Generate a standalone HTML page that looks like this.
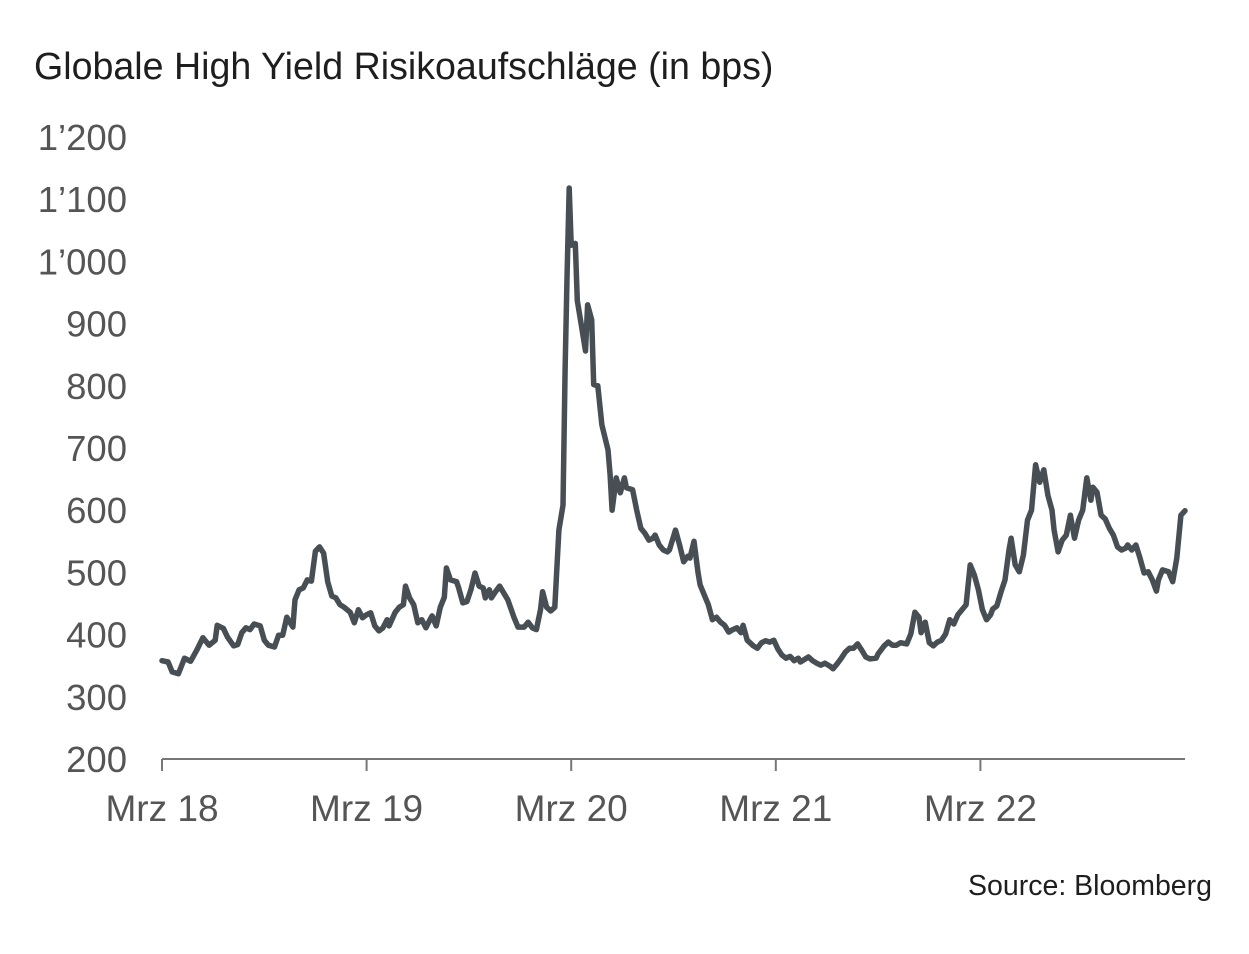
<!DOCTYPE html>
<html><head><meta charset="utf-8"><style>
html,body{margin:0;padding:0;background:#fff;}
body{width:1249px;height:949px;overflow:hidden;font-family:"Liberation Sans",sans-serif;}
</style></head><body>
<svg width="1249" height="949" viewBox="0 0 1249 949">
<text x="34" y="79" font-size="37.6" fill="#1e1e1e">Globale High Yield Risikoaufschläge (in bps)</text>
<g id="yaxis"></g>
<g id="xaxis"></g>
<g id="series"></g>
<text x="1212" y="895" font-size="28.5" fill="#1e1e1e" text-anchor="end">Source: Bloomberg</text>
</svg>
<script>
const yTicks=[200,300,400,500,600,700,800,900,1000,1100,1200];
const yTickLabels=["200","300","400","500","600","700","800","900","1’000","1’100","1’200"];
const xTicks=[0,1,2,3,4];
const xTickLabels=["Mrz 18","Mrz 19","Mrz 20","Mrz 21","Mrz 22"];
// years since Mar 2018
const times=[0,.03,.05,.08,.11,.14,.17,.20,.23,.26,.27,.30,.32,.35,.37,.39,.41,.43,.45,.48,.50,.52,.55,.57,.59,.61,.64,.65,.67,.69,.71,.73,.75,.77,.79,.81,.83,.85,.87,.89,.92,.94,.96,.98,1.00,1.02,1.04,1.06,1.08,1.10,1.11,1.14,1.16,1.18,1.19,1.21,1.23,1.25,1.27,1.29,1.31,1.32,1.34,1.36,1.38,1.39,1.41,1.44,1.45,1.47,1.49,1.51,1.53,1.55,1.57,1.58,1.60,1.61,1.63,1.65,1.67,1.69,1.72,1.74,1.77,1.79,1.81,1.83,1.85,1.86,1.88,1.90,1.92,1.94,1.96,1.97,1.98,1.99,2.00,2.02,2.03,2.05,2.07,2.08,2.10,2.11,2.13,2.15,2.18,2.19,2.20,2.22,2.24,2.26,2.27,2.30,2.32,2.34,2.36,2.38,2.40,2.41,2.43,2.45,2.47,2.48,2.51,2.53,2.55,2.57,2.58,2.60,2.62,2.63,2.65,2.67,2.69,2.71,2.73,2.75,2.77,2.79,2.81,2.83,2.84,2.86,2.89,2.91,2.93,2.95,2.97,2.99,3.01,3.03,3.05,3.07,3.09,3.11,3.12,3.14,3.16,3.18,3.20,3.22,3.24,3.27,3.28,3.30,3.32,3.34,3.36,3.38,3.40,3.42,3.44,3.46,3.49,3.50,3.53,3.55,3.57,3.59,3.61,3.64,3.66,3.68,3.70,3.71,3.73,3.75,3.77,3.79,3.81,3.83,3.85,3.87,3.89,3.91,3.93,3.95,3.97,3.99,4.01,4.03,4.05,4.06,4.08,4.10,4.12,4.14,4.15,4.17,4.19,4.21,4.23,4.25,4.27,4.29,4.31,4.33,4.35,4.36,4.38,4.40,4.42,4.44,4.46,4.48,4.50,4.52,4.54,4.55,4.57,4.59,4.61,4.63,4.65,4.67,4.69,4.71,4.72,4.74,4.76,4.78,4.80,4.82,4.84,4.86,4.87,4.89,4.92,4.94,4.96,4.98,5.00];
const spreads=[358,356,340,337,362,357,375,395,383,391,415,410,396,382,384,403,411,408,417,414,391,383,380,399,399,428,412,456,472,475,488,486,534,541,531,485,462,459,448,444,436,419,440,427,432,435,414,406,411,424,414,436,444,448,478,459,448,419,424,411,424,430,414,444,460,507,488,485,475,451,453,472,499,478,475,459,472,459,469,478,467,456,428,412,412,420,411,408,440,469,444,438,444,568,608,826,980,1118,1026,1029,937,897,856,930,906,802,800,737,697,657,600,652,628,652,636,633,600,571,563,552,555,560,544,536,533,536,568,544,517,526,523,550,499,480,464,448,424,428,420,415,404,408,411,403,415,391,382,378,387,390,388,391,377,367,362,365,358,362,356,360,364,358,354,351,354,348,345,353,362,372,378,378,385,375,364,361,362,369,382,388,383,383,387,385,401,436,428,403,420,387,382,388,391,401,424,417,432,440,448,512,496,472,440,424,432,441,446,468,488,536,555,512,501,528,584,600,673,645,665,624,600,568,533,552,560,592,555,584,600,652,616,637,629,592,586,571,560,541,536,539,544,536,544,523,499,501,488,470,488,504,501,485,523,592,599];

const NS='http://www.w3.org/2000/svg';
const X0=162,X1=1185,Y0=759,Y1=137;
const xs=t=>X0+(X1-X0)*t/5;
const ys=v=>Y0-(Y0-Y1)*(v-200)/1000;
function mk(tag,attrs,parent){const e=document.createElementNS(NS,tag);for(const k in attrs)e.setAttribute(k,attrs[k]);parent.appendChild(e);return e;}

const ya=document.getElementById('yaxis');
yTicks.forEach((v,i)=>{
  const t=mk('text',{x:127,y:ys(v)+13,'font-size':36.5,fill:'#555','text-anchor':'end'},ya);
  
  
  t.textContent=yTickLabels[i];
});
const xa=document.getElementById('xaxis');
const base=mk('line',{x1:X0,y1:Y0,x2:X1,y2:Y0,stroke:'#777','stroke-width':2},xa);


xTicks.forEach((t,i)=>{
  const l=mk('line',{x1:xs(t),y1:Y0,x2:xs(t),y2:Y0+12,stroke:'#777','stroke-width':2},xa);
  
  
  const tx=mk('text',{x:xs(t),y:821,'font-size':37,fill:'#555','text-anchor':'middle'},xa);
  
  
  tx.textContent=xTickLabels[i];
});
const d=times.map((t,i)=>(i?'L':'M')+xs(t).toFixed(1)+' '+ys(spreads[i]).toFixed(1)).join(' ');
const p=mk('path',{d:d,fill:'none',stroke:'#474f55','stroke-width':5.5,'stroke-linejoin':'round','stroke-linecap':'round'},document.getElementById('series'));


</script>
</body></html>
